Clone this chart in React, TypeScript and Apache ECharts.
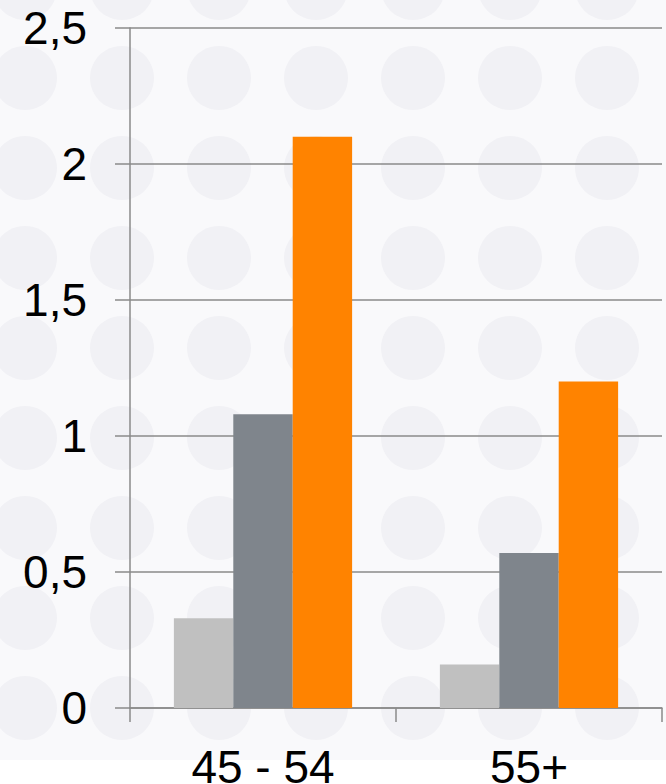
import React, { useEffect, useRef } from "react";
import * as echarts from "echarts";

const categories = ["45 - 54", "55+"];
const seriesLight = [0.33, 0.16];
const seriesDark = [1.08, 0.57];
const seriesOrange = [2.1, 1.2];
const yTicks = { min: 0, max: 2.5, interval: 0.5 };

export default function App() {
  const ref = useRef<HTMLDivElement>(null);
  useEffect(() => {
    if (!ref.current) return;
    const chart = echarts.init(ref.current, null, { renderer: "svg" });
    const decor: any[] = [
      { type: "rect", z: -101, silent: true, shape: { x: 0, y: 0, width: 666, height: 760 }, style: { fill: "#f9f9fb" } },
    ];
    for (let j = 0; j < 9; j++) {
      for (let i = 0; i < 8; i++) {
        decor.push({
          type: "circle",
          z: -100,
          silent: true,
          shape: { cx: 25 + 97 * i, cy: -12 + 90 * j, r: 32 },
          style: { fill: "#f1f1f5" },
        });
      }
    }
    const font = "'Liberation Sans', Arial, sans-serif";
    chart.setOption({
      animation: false,
      backgroundColor: "#ffffff",
      graphic: { elements: decor },
      grid: { left: 130, right: 4, top: 28, bottom: 76, containLabel: false, outerBoundsMode: "none" },
      xAxis: {
        type: "category",
        data: categories,
        axisLine: { lineStyle: { color: "#8a8a8a", width: 1.5 } },
        axisTick: { show: true, length: 14, lineStyle: { color: "#8a8a8a", width: 1.5 } },
        axisLabel: { color: "#000", fontSize: 46, fontFamily: font, margin: 36 },
      },
      yAxis: {
        type: "value",
        min: yTicks.min,
        max: yTicks.max,
        interval: yTicks.interval,
        axisLine: { show: true, lineStyle: { color: "#8a8a8a", width: 1.5 } },
        axisTick: { show: true, length: 15, lineStyle: { color: "#8a8a8a", width: 1.5 } },
        splitLine: { show: true, lineStyle: { color: "#8a8a8a", width: 1.5 } },
        axisLabel: {
          color: "#000",
          fontSize: 46,
          fontFamily: font,
          margin: 43,
          formatter: (v: number) => String(v).replace(".", ","),
        },
      },
      series: [
        { type: "bar", data: seriesLight, itemStyle: { color: "#c0c0c0" }, barGap: "0%", barCategoryGap: "33%" },
        { type: "bar", data: seriesDark, itemStyle: { color: "#7f858c" }, barGap: "0%", barCategoryGap: "33%" },
        { type: "bar", data: seriesOrange, itemStyle: { color: "#ff8300" }, barGap: "0%", barCategoryGap: "33%" },
      ],
    });
    return () => chart.dispose();
  }, []);
  return <div ref={ref} style={{ width: 666, height: 784, position: "absolute", left: 0, top: 0 }} />;
}
